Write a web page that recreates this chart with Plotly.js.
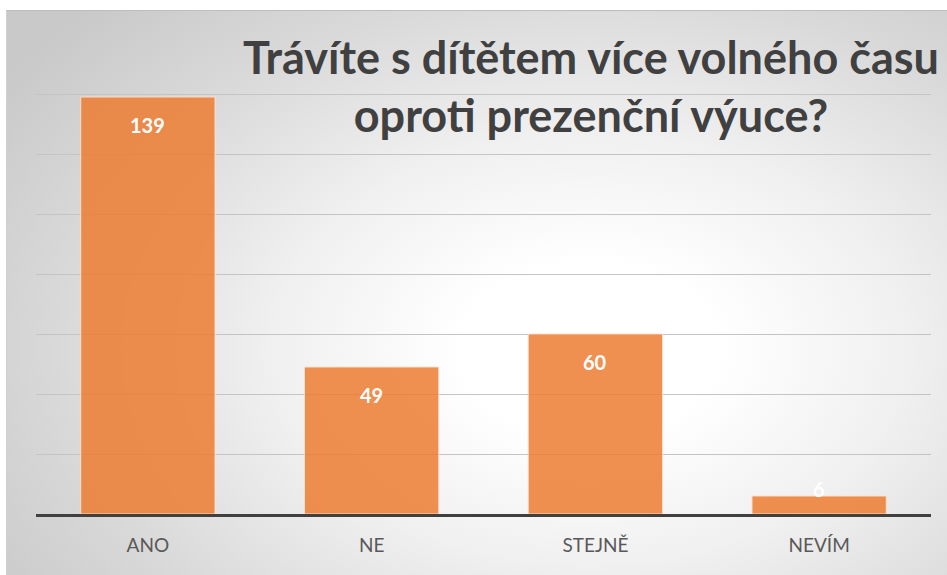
<!DOCTYPE html>
<html>
<head>
<meta charset="utf-8">
<script src="https://cdn.plot.ly/plotly-3.0.1.min.js"></script>
<style>
  html, body { margin: 0; padding: 0; background: #ffffff; }
  #bg { position: absolute; left: 6px; top: 10px; width: 941px; height: 565px;
        box-sizing: border-box; border-top: 1px solid #bdbdbd; border-left: 1px solid #d0d0d0;
        background: radial-gradient(ellipse 75% 85% at 62% 60%, #ffffff 0%, #ffffff 18%, #f0f0f0 45%, #d9d9d9 75%, #c9c9c9 100%); }
  #chart { position: absolute; left: 0; top: 0; width: 947px; height: 575px; }
</style>
</head>
<body>
<div id="bg"></div>
<div id="chart"></div>
<script>
const categories = ["ANO", "NE", "STEJNĚ", "NEVÍM"];
const values = [139, 49, 60, 6];
const gridValues = [20, 40, 60, 80, 100, 120, 140];
const titleText = "Trávíte s dítětem více volného času<br>oproti prezenční výuce?";

const annotations = values.map((v, i) => {
  const tall = v >= 15;
  return {
    x: categories[i], y: tall ? v : 0, xref: "x", yref: "y",
    text: String(v), showarrow: false,
    yanchor: "middle", yshift: tall ? -28 : 25,
    font: { family: "Lato, sans-serif", size: 20, color: "#ffffff", weight: "bold" }
  };
});

const data = [{
  type: "bar",
  x: categories,
  y: values,
  marker: { color: "rgba(237,125,49,0.85)", line: { color: "rgba(255,225,205,0.9)", width: 1 } },
  hoverinfo: "none"
}];

const layout = {
  width: 947, height: 575,
  margin: { l: 36, r: 16, t: 88, b: 61 },
  paper_bgcolor: "rgba(0,0,0,0)",
  plot_bgcolor: "rgba(0,0,0,0)",
  bargap: 0.4,
  showlegend: false,
  title: {
    text: titleText,
    x: 0.624, xanchor: "center",
    y: 0.872, yanchor: "top",
    font: { family: "Lato, sans-serif", size: 45, color: "#404040", weight: "bold" }
  },
  xaxis: {
    showline: true, linecolor: "#404040", linewidth: 3,
    showgrid: false, zeroline: false,
    ticks: "outside", ticklen: 12, tickcolor: "rgba(0,0,0,0)",
    tickfont: { family: "Lato, sans-serif", size: 19, color: "#595959" }
  },
  yaxis: {
    range: [0, 142], tickvals: gridValues,
    showgrid: true, gridcolor: "#c4c4c4", gridwidth: 1,
    zeroline: false, showticklabels: false, showline: false, ticks: ""
  },
  annotations: annotations
};

Plotly.newPlot("chart", data, layout, { displayModeBar: false, staticPlot: true });
</script>
</body>
</html>
